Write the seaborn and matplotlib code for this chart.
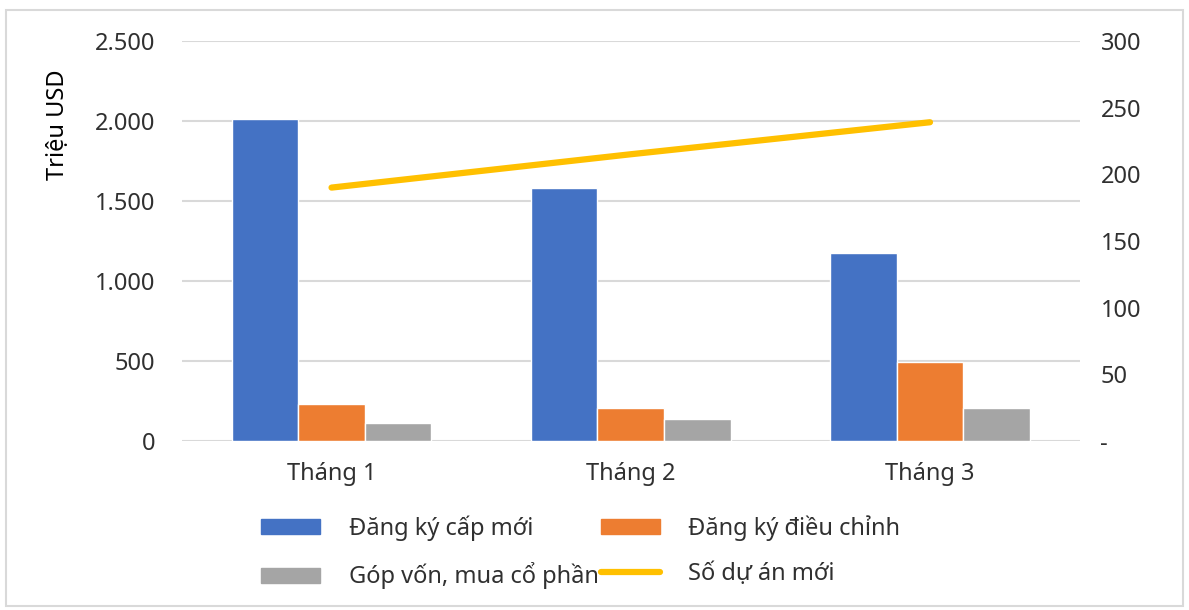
import matplotlib
matplotlib.use("Agg")
import matplotlib.pyplot as plt
import matplotlib.patches as mpatches
from matplotlib.lines import Line2D
from matplotlib.ticker import FuncFormatter, MultipleLocator
import numpy as np
import pandas as pd
import seaborn as sns

# Data
months = ["Tháng 1", "Tháng 2", "Tháng 3"]
dang_ky_cap_moi = [2010, 1580, 1175]
dang_ky_dieu_chinh = [230, 205, 495]
gop_von = [112, 137, 206]
so_du_an_moi = [190, 215, 239]

series_names = ["Đăng ký cấp mới", "Đăng ký điều chỉnh", "Góp vốn, mua cổ phần"]
line_name = "Số dự án mới"
colors = ["#4472C4", "#ED7D31", "#A5A5A5"]
line_color = "#FFC000"

# Long format for seaborn
bar_df = pd.DataFrame(
    {
        "month": months * 3,
        "series": np.repeat(series_names, len(months)),
        "value": dang_ky_cap_moi + dang_ky_dieu_chinh + gop_von,
    }
)
line_df = pd.DataFrame({"pos": np.arange(len(months)), "value": so_du_an_moi})

sns.set_style("white")
plt.rcParams["font.family"] = ["Noto Sans", "DejaVu Sans"]
text_color = "#303030"
fs = 17

fig = plt.figure(figsize=(11.89, 6.10), dpi=100)
ax = fig.add_axes([0.153, 0.277, 0.755, 0.656])

# Bars
sns.barplot(
    data=bar_df,
    x="month",
    y="value",
    hue="series",
    palette=colors,
    width=0.667,
    saturation=1,
    ax=ax,
    legend=False,
    zorder=3,
)
ax.set_xlim(-0.5, 2.5)
ax.set_ylim(0, 2500)
ax.yaxis.set_major_locator(MultipleLocator(500))
ax.yaxis.set_major_formatter(
    FuncFormatter(lambda v, p: f"{int(v):,}".replace(",", "."))
)
ax.grid(axis="y", color="#D9D9D9", linewidth=1.5, zorder=0)
ax.set_axisbelow(True)
for s in ax.spines.values():
    s.set_visible(False)
ax.tick_params(axis="both", length=0, labelsize=fs, colors=text_color)
ax.tick_params(axis="y", pad=19)
ax.tick_params(axis="x", pad=15)
ax.set_xlabel("")
ax.set_ylabel("Triệu USD", fontsize=fs, color="black")
ax.yaxis.set_label_coords(-0.125, 0.79)

# Line on secondary axis
ax2 = ax.twinx()
sns.lineplot(
    data=line_df,
    x="pos",
    y="value",
    color=line_color,
    linewidth=4.5,
    solid_capstyle="round",
    ax=ax2,
)
ax2.set_ylim(0, 300)
ax2.yaxis.set_major_locator(MultipleLocator(50))
ax2.yaxis.set_major_formatter(FuncFormatter(lambda v, p: "-" if v == 0 else f"{int(v)}"))
for s in ax2.spines.values():
    s.set_visible(False)
ax2.tick_params(axis="y", length=0, labelsize=fs, colors=text_color, pad=15)
ax2.set_ylabel("")
ax2.set_xlabel("")

# Legend
handles = [
    mpatches.Patch(color=colors[0], label=series_names[0]),
    mpatches.Patch(color=colors[2], label=series_names[2]),
    mpatches.Patch(color=colors[1], label=series_names[1]),
    Line2D([0], [0], color=line_color, linewidth=4.5, label=line_name),
]
fig.legend(
    handles=handles,
    ncol=2,
    loc="upper left",
    bbox_to_anchor=(0.202, 0.19),
    frameon=False,
    fontsize=fs,
    handlelength=2.5,
    handleheight=0.6,
    handletextpad=1.2,
    columnspacing=0.1,
    labelspacing=0.9,
    labelcolor=text_color,
)

# Outer chart border
fig.patches.append(
    mpatches.Rectangle(
        (0.005, 0.006), 0.99, 0.978,
        transform=fig.transFigure, fill=False, edgecolor="#D9D9D9", linewidth=1.5,
    )
)

fig.savefig("out.png", dpi=100)
